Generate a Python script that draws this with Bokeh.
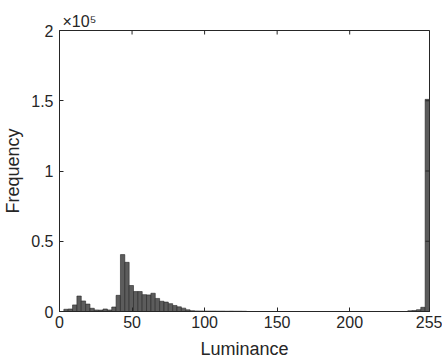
import numpy as np
from bokeh.plotting import figure
from bokeh.models import FixedTicker, Range1d
from bokeh.embed import file_html
from bokeh.resources import INLINE

# Histogram data: luminance bins of width 3 from 0 to 255
bin_width = 3
bin_edges = list(range(0, 256, bin_width))
counts = [
    0, 1600, 1800, 4700, 11000, 7500, 5300, 2300, 1100, 1000,
    1800, 1100, 3200, 11500, 40500, 35000, 18500, 14200, 14200, 12000,
    11800, 13000, 9300, 7300, 6700, 5600, 4300, 3300, 2400, 1200,
    600, 400, 350, 300, 300, 300, 250, 250, 200, 250,
    200, 200, 150,
] + [0] * 37 + [500, 700, 1300, 3000, 151000]

x_ticks = [0, 50, 100, 150, 200, 255]
y_ticks = [0, 50000, 100000, 150000, 200000]
y_tick_labels = ["0", "0.5", "1", "1.5", "2"]
x_min, x_max = 0, 255
y_min, y_max = 0, 200000

FONT = "Liberation Sans"
TXT = "#262626"

p = figure(width=442, height=361, output_backend="svg", toolbar_location=None,
           x_range=Range1d(x_min, x_max), y_range=Range1d(y_min, y_max),
           min_border_left=59, min_border_right=13, min_border_top=30, min_border_bottom=50)

p.quad(left=bin_edges[:-1], right=bin_edges[1:], bottom=0, top=counts,
       fill_color="#5c5c5c", line_color="#262626", line_width=0.6)

# inward ticks on the top and right sides of the box (half of each dash is clipped by the frame)
p.scatter(x=x_ticks, y=[y_max] * len(x_ticks), marker="dash", size=8, angle=np.pi / 2,
          line_color=TXT, line_width=1)
p.scatter(x=[x_max] * len(y_ticks), y=y_ticks, marker="dash", size=8,
          line_color=TXT, line_width=1)

p.grid.visible = False
p.outline_line_color = TXT
p.outline_line_width = 1
p.outline_line_alpha = 1
p.background_fill_color = "white"
p.border_fill_color = "white"

def style(ax):
    ax.axis_line_color = TXT
    ax.major_tick_line_color = TXT
    ax.minor_tick_line_color = None
    ax.major_tick_in = 4
    ax.major_tick_out = 0
    ax.major_label_text_font = FONT
    ax.major_label_text_color = TXT
    ax.major_label_text_font_size = "16px"
    ax.axis_label_text_font = FONT
    ax.axis_label_text_color = TXT
    ax.axis_label_text_font_size = "18px"
    ax.axis_label_text_font_style = "normal"

xa = p.xaxis[0]
style(xa)
xa.ticker = FixedTicker(ticks=x_ticks)
xa.axis_label = "Luminance"
xa.major_label_standoff = 4
xa.axis_label_standoff = 8

ya = p.yaxis[0]
style(ya)
ya.ticker = FixedTicker(ticks=y_ticks)
ya.major_label_overrides = {t: s for t, s in zip(y_ticks, y_tick_labels)}
ya.axis_label = "Frequency"
ya.major_label_standoff = 6
ya.axis_label_standoff = 5

p.title.text = "×10⁵"
p.title.text_font = FONT
p.title.text_font_size = "16px"
p.title.text_font_style = "normal"
p.title.text_color = TXT
p.title.align = "left"
p.title.offset = 3
p.title.standoff = 1

open("out.html", "w").write(file_html(p, INLINE))
